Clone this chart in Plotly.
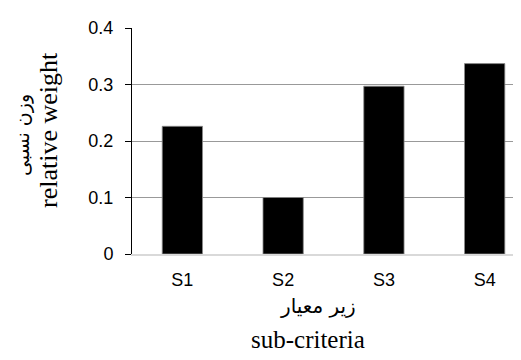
import plotly.graph_objects as go

categories = ["S1", "S2", "S3", "S4"]
weights = [0.226, 0.100, 0.297, 0.337]
y_ticks = [0, 0.1, 0.2, 0.3, 0.4]
y_tick_labels = ["0", "0.1", "0.2", "0.3", "0.4"]

W, H = 521, 360
L, R, T, B = 124, 0, 20, 114
pw = W - L - R
ph = H - T - B

def px_x(px):
    return (px - L) / pw

def px_y(py):
    return (H - B - py) / ph

fig = go.Figure()
fig.add_trace(go.Bar(
    x=categories, y=weights, width=0.4,
    marker=dict(color="black", line=dict(color="#8c8c8c", width=0.8)),
))

serif = "Liberation Serif, serif"
sans = "Liberation Sans Narrow, Liberation Sans, Arial, sans-serif"
arabic = "DejaVu Sans, sans-serif"

fig.update_layout(
    width=W, height=H,
    margin=dict(l=L, r=R, t=T, b=B, pad=0),
    paper_bgcolor="white", plot_bgcolor="white",
    showlegend=False,
    bargap=0.6,
    xaxis=dict(
        range=[-0.5, 3.44], showgrid=False, zeroline=False,
        showline=True, linecolor="#d9d9d9", linewidth=2,
        ticks="", tickfont=dict(family=sans, size=18, color="black"),
        ticklabelstandoff=8,
    ),
    yaxis=dict(
        range=[0, 0.4], tickvals=y_ticks, ticktext=y_tick_labels,
        showgrid=True, gridcolor="#999999", gridwidth=1, zeroline=False,
        showline=True, linecolor="black", linewidth=1,
        ticks="outside", ticklen=6, tickcolor="black", tickwidth=1,
        tickfont=dict(family=sans, size=18, color="black"),
        ticklabelstandoff=8,
    ),
    annotations=[
        dict(text="وزن نسبی", xref="paper", yref="paper", x=px_x(15), y=px_y(127),
             textangle=-90, showarrow=False, xanchor="center", yanchor="middle",
             font=dict(family=arabic, size=19, color="black")),
        dict(text="relative weight", xref="paper", yref="paper", x=px_x(40), y=px_y(122),
             textangle=-90, showarrow=False, xanchor="center", yanchor="middle",
             font=dict(family=serif, size=26, color="black")),
        dict(text="زیر معیار", xref="paper", yref="paper", x=px_x(310), y=px_y(298),
             showarrow=False, xanchor="center", yanchor="middle",
             font=dict(family=arabic, size=20, color="black")),
        dict(text="sub-criteria", xref="paper", yref="paper", x=px_x(300), y=px_y(331),
             showarrow=False, xanchor="center", yanchor="middle",
             font=dict(family=serif, size=25, color="black")),
    ],
)

fig.write_html("out.html")
